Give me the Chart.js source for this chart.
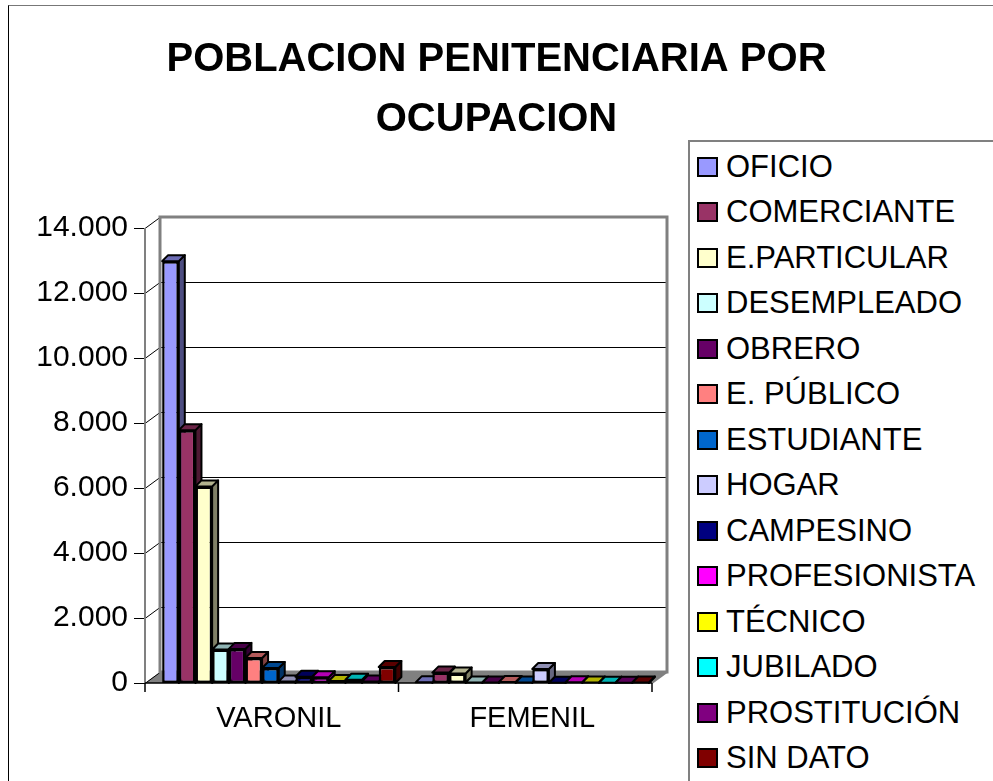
<!DOCTYPE html>
<html>
<head>
<meta charset="utf-8">
<script src="https://cdn.jsdelivr.net/npm/chart.js@4.4.1/dist/chart.umd.min.js"></script>
<style>
  html, body { margin: 0; padding: 0; background: #fff; overflow: hidden; }
  #wrap { position: relative; width: 993px; height: 781px; }
  #frame { position: absolute; left: 8px; top: 5px; width: 1100px; height: 900px;
           border-left: 1px solid #000; border-top: 1px solid #777; }
  canvas { position: absolute; left: 0; top: 0; }
  #legend { position: absolute; left: 688px; top: 140px; width: 400px; height: 700px;
            box-sizing: border-box; border: 2px solid #808080; background: #fff;
            padding: 2px 0 0 7px; font-family: Arial, 'Liberation Sans', sans-serif;
            font-size: 31px; color: #000; }
  .item { height: 45.5px; display: flex; align-items: center; white-space: nowrap; }
  .sw { width: 17px; height: 16px; border: 2.5px solid #000; margin-right: 8px; flex: none; }
</style>
</head>
<body>
<div id="wrap">
  <div id="frame"></div>
  <canvas id="grafica" width="993" height="781"></canvas>
  <div id="legend"></div>
</div>
<script>
// datos
const categorias = ['VARONIL', 'FEMENIL'];
const ocupaciones = ['OFICIO', 'COMERCIANTE', 'E.PARTICULAR', 'DESEMPLEADO', 'OBRERO', 'E. PÚBLICO',
  'ESTUDIANTE', 'HOGAR', 'CAMPESINO', 'PROFESIONISTA', 'TÉCNICO', 'JUBILADO', 'PROSTITUCIÓN', 'SIN DATO'];
const varonil = [12980, 7780, 6050, 1030, 1050, 770, 460, 50, 190, 180, 60, 100, 50, 490];
const femenil = [20, 320, 290, 15, 15, 30, 15, 430, 10, 25, 15, 10, 10, 15];
const colores = ['#9999FF', '#993366', '#FFFFCC', '#CCFFFF', '#660066', '#FF8080', '#0066CC',
  '#CCCCFF', '#000080', '#FF00FF', '#FFFF00', '#00FFFF', '#800080', '#800000'];
const yTicks = [0, 2000, 4000, 6000, 8000, 10000, 12000, 14000];

const fuente = "Arial, 'Liberation Sans', sans-serif";

function oscurecer(hex, f) {
  const n = parseInt(hex.slice(1), 16);
  const r = Math.round(((n >> 16) & 255) * f);
  const g = Math.round(((n >> 8) & 255) * f);
  const b = Math.round((n & 255) * f);
  return `rgb(${r},${g},${b})`;
}

function miles(v) {
  return String(v).replace(/\B(?=(\d{3})+(?!\d))/g, '.');
}

// paredes, piso y caras laterales de las barras (efecto 3D tipo Excel)
const efecto3D = {
  id: 'efecto3D',
  beforeDatasetsDraw(chart) {
    const { ctx, chartArea: a, scales: { y } } = chart;
    const L = a.left - 7, R = a.right - 7, T = a.top, B = a.bottom;
    const dx = 15, dy = -11;
    ctx.save();

    // piso
    ctx.fillStyle = '#808080';
    ctx.beginPath();
    ctx.moveTo(L, B); ctx.lineTo(R, B); ctx.lineTo(R + dx, B + dy); ctx.lineTo(L + dx, B + dy);
    ctx.closePath(); ctx.fill();

    // lineas de division en la pared del fondo + diagonales de la pared lateral
    ctx.lineWidth = 1;
    yTicks.forEach(v => {
      const py = Math.round(y.getPixelForValue(v)) + 0.5;
      ctx.strokeStyle = '#000';
      if (v > 0 && v < 14000) {
        ctx.beginPath(); ctx.moveTo(L + dx, py + dy); ctx.lineTo(R + dx, py + dy); ctx.stroke();
      }
      ctx.beginPath(); ctx.moveTo(L, py); ctx.lineTo(L + dx, py + dy); ctx.stroke();
      ctx.beginPath(); ctx.moveTo(L - 11, py); ctx.lineTo(L, py); ctx.stroke();
    });

    // borde de la pared del fondo
    ctx.strokeStyle = '#808080';
    ctx.lineWidth = 3;
    ctx.strokeRect(L + dx, T + dy, R - L, B - T);

    // eje vertical frontal
    ctx.lineWidth = 2;
    ctx.beginPath(); ctx.moveTo(L, T); ctx.lineTo(L, B); ctx.stroke();
    ctx.beginPath(); ctx.moveTo(R, B); ctx.lineTo(R + dx, B + dy); ctx.stroke();

    // eje horizontal frontal y marcas de categoria
    ctx.strokeStyle = '#000';
    ctx.lineWidth = 1.5;
    ctx.beginPath(); ctx.moveTo(L, B); ctx.lineTo(R, B); ctx.stroke();
    [L, (L + R) / 2, R].forEach(px => {
      ctx.beginPath(); ctx.moveTo(px, B); ctx.lineTo(px, B + 9); ctx.stroke();
    });

    // caras superior y lateral de cada barra
    const bdx = 6, bdy = -6;
    ctx.lineWidth = 2;
    ctx.strokeStyle = '#000';
    ctx.lineJoin = 'round';
    for (let c = 0; c < categorias.length; c++) {
      chart.data.datasets.forEach((ds, d) => {
        const bar = chart.getDatasetMeta(d).data[c];
        const p = bar.getProps(['x', 'y', 'base', 'width'], true);
        const x0 = p.x - p.width / 2, x1 = p.x + p.width / 2;
        ctx.fillStyle = oscurecer(colores[d], 0.5);
        ctx.beginPath();
        ctx.moveTo(x1, p.y); ctx.lineTo(x1 + bdx, p.y + bdy);
        ctx.lineTo(x1 + bdx, p.base + bdy); ctx.lineTo(x1, p.base);
        ctx.closePath(); ctx.fill(); ctx.stroke();
        ctx.fillStyle = oscurecer(colores[d], 0.7);
        ctx.beginPath();
        ctx.moveTo(x0, p.y); ctx.lineTo(x1, p.y);
        ctx.lineTo(x1 + bdx, p.y + bdy); ctx.lineTo(x0 + bdx, p.y + bdy);
        ctx.closePath(); ctx.fill(); ctx.stroke();
      });
    }
    ctx.restore();
  }
};

const datasets = ocupaciones.map((nombre, i) => ({
  label: nombre,
  data: [varonil[i], femenil[i]],
  backgroundColor: colores[i],
  borderColor: '#000',
  borderWidth: 2.5,
  borderSkipped: false,
  categoryPercentage: 0.92,
  barPercentage: 1
}));

new Chart(document.getElementById('grafica'), {
  type: 'bar',
  data: { labels: categorias, datasets },
  plugins: [efecto3D],
  options: {
    responsive: false,
    animation: false,
    layout: { padding: 0 },
    plugins: {
      legend: { display: false },
      tooltip: { enabled: false },
      title: {
        display: true,
        text: ['POBLACION PENITENCIARIA POR', 'OCUPACION'],
        color: '#000',
        font: { family: fuente, size: 40, weight: 'bold', lineHeight: 1.5 },
        padding: { top: 29.5, bottom: 78.5 }
      }
    },
    scales: {
      x: {
        grid: { display: false, drawTicks: false },
        border: { display: false },
        ticks: { color: '#000', font: { family: fuente, size: 29 }, padding: 19 },
        afterFit(s) { s.height = 98; }
      },
      y: {
        min: 0,
        max: 14000,
        grid: { display: false, drawTicks: false },
        border: { display: false },
        afterBuildTicks(s) { s.ticks = yTicks.map(v => ({ value: v })); },
        ticks: {
          color: '#000', font: { family: fuente, size: 30 }, padding: 24,
          callback: v => miles(v)
        },
        afterFit(s) { s.width = 152; }
      },
      espacio: {
        type: 'linear',
        position: 'right',
        grid: { display: false, drawTicks: false },
        border: { display: false },
        ticks: { display: false },
        afterFit(s) { s.width = 334; }
      }
    }
  }
});

// leyenda en HTML a partir de las mismas series
const leyenda = document.getElementById('legend');
ocupaciones.forEach((nombre, i) => {
  const fila = document.createElement('div');
  fila.className = 'item';
  const sw = document.createElement('span');
  sw.className = 'sw';
  sw.style.background = colores[i];
  const txt = document.createElement('span');
  txt.textContent = nombre;
  fila.appendChild(sw);
  fila.appendChild(txt);
  leyenda.appendChild(fila);
});
</script>
</body>
</html>
